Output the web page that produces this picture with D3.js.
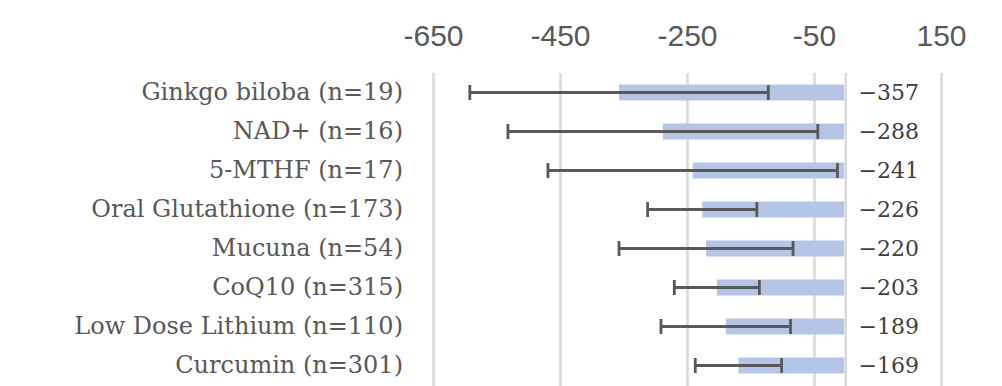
<!DOCTYPE html>
<html>
<head>
<meta charset="utf-8">
<style>
  body { margin: 0; background: #fff; }
  svg { display: block; }
  .x-labels .tick text { font-family: 'Liberation Sans', Arial, sans-serif; font-size: 30px; fill: #595959; }
  .grid .tick line { stroke: #d9d9d9; stroke-width: 2.5; }
  .cats .tick text { font-family: 'DejaVu Serif', serif; font-size: 24px; fill: #595959; }
  .domain { display: none; }
  .val { font-family: 'DejaVu Serif', serif; font-size: 22px; fill: #404040; }
</style>
</head>
<body>
<svg width="1002" height="386"></svg>
<script src="https://d3js.org/d3.v7.min.js"></script>
<script>
// data
const categories = [
  "Ginkgo biloba (n=19)",
  "NAD+ (n=16)",
  "5-MTHF (n=17)",
  "Oral Glutathione (n=173)",
  "Mucuna (n=54)",
  "CoQ10 (n=315)",
  "Low Dose Lithium (n=110)",
  "Curcumin (n=301)"
];
const means = [-357, -288, -241, -226, -220, -203, -189, -169];
const errors = [235, 244, 228, 86, 137, 67, 102, 68];
const tickValues = [-650, -450, -250, -50, 150];

const rows = categories.map((c, i) => ({ name: c, mean: means[i], err: errors[i] }));

const svg = d3.select("svg");

const x = d3.scaleLinear()
  .domain([-650, 150])
  .range([433, 941]);

const y = d3.scaleBand()
  .domain(categories)
  .range([73, 385])
  .paddingInner(0.59)
  .paddingOuter(0.295);

const gridTop = 73, gridBottom = 386;

// vertical gridlines
svg.append("g")
  .attr("class", "grid")
  .attr("transform", `translate(0,${gridTop})`)
  .call(d3.axisBottom(x).tickValues(tickValues).tickSize(gridBottom - gridTop).tickFormat(""));

// zero line
svg.append("line")
  .attr("x1", x(0)).attr("x2", x(0))
  .attr("y1", gridTop).attr("y2", gridBottom)
  .attr("stroke", "#d9d9d9")
  .attr("stroke-width", 2.5);

// tick labels on top (plain hyphen like the original)
svg.append("g")
  .attr("class", "x-labels")
  .attr("transform", "translate(0,46)")
  .call(d3.axisTop(x).tickValues(tickValues).tickSize(0).tickPadding(0).tickFormat(d => String(d)));

// category labels
svg.append("g")
  .attr("class", "cats")
  .attr("transform", "translate(403,0)")
  .call(d3.axisLeft(y).tickSize(0).tickPadding(0));

// bars
svg.append("g")
  .selectAll("rect")
  .data(rows)
  .join("rect")
  .attr("x", d => x(d.mean))
  .attr("width", d => x(0) - x(d.mean) - 1.5)
  .attr("y", d => y(d.name))
  .attr("height", y.bandwidth())
  .attr("fill", "#b4c5e6");

// error bars
const eb = svg.append("g")
  .attr("stroke", "#595959")
  .attr("stroke-width", 2.8)
  .selectAll("g")
  .data(rows)
  .join("g");

const cap = 7.5;
eb.append("line")
  .attr("x1", d => x(d.mean - d.err))
  .attr("x2", d => x(d.mean + d.err))
  .attr("y1", d => y(d.name) + y.bandwidth() / 2)
  .attr("y2", d => y(d.name) + y.bandwidth() / 2);
eb.append("line")
  .attr("x1", d => x(d.mean - d.err))
  .attr("x2", d => x(d.mean - d.err))
  .attr("y1", d => y(d.name) + y.bandwidth() / 2 - cap)
  .attr("y2", d => y(d.name) + y.bandwidth() / 2 + cap);
eb.append("line")
  .attr("x1", d => x(d.mean + d.err))
  .attr("x2", d => x(d.mean + d.err))
  .attr("y1", d => y(d.name) + y.bandwidth() / 2 - cap)
  .attr("y2", d => y(d.name) + y.bandwidth() / 2 + cap);

// value labels
svg.append("g")
  .selectAll("text")
  .data(rows)
  .join("text")
  .attr("class", "val")
  .attr("x", x(0) + 43)
  .attr("y", d => y(d.name) + y.bandwidth() / 2)
  .attr("dy", "0.35em")
  .attr("text-anchor", "middle")
  .text(d => "\u2212" + Math.abs(d.mean));
</script>
</body>
</html>
